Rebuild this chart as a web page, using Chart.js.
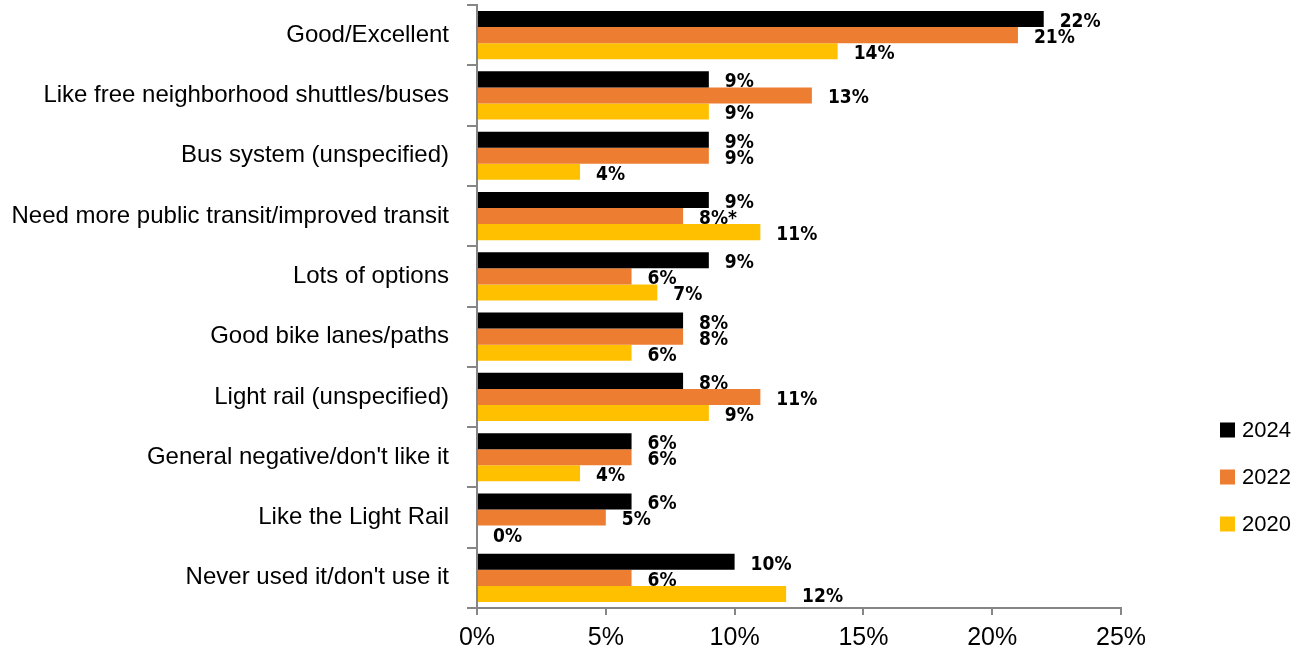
<!DOCTYPE html>
<html>
<head>
<meta charset="utf-8">
<title>Transit comments by year</title>
<script src="https://cdn.jsdelivr.net/npm/chart.js@4/dist/chart.umd.min.js"></script>
<style>
  html, body { margin: 0; padding: 0; background: #fff; }
  #wrap { position: relative; width: 1299px; height: 653px; }
</style>
</head>
<body>
<div id="wrap"><canvas id="chart"></canvas></div>
<script>
// Response categories, top to bottom
const categories = [
  "Good/Excellent",
  "Like free neighborhood shuttles/buses",
  "Bus system (unspecified)",
  "Need more public transit/improved transit",
  "Lots of options",
  "Good bike lanes/paths",
  "Light rail (unspecified)",
  "General negative/don't like it",
  "Like the Light Rail",
  "Never used it/don't use it"
];

// Percent of respondents per survey year
const values2024 = [22, 9, 9, 9, 9, 8, 8, 6, 6, 10];
const values2022 = [21, 13, 9, 8, 6, 8, 11, 6, 5, 6];
const values2020 = [14, 9, 4, 11, 7, 6, 9, 4, 0, 12];

// footnote markers appended to a few labels
const notes2022 = ["", "", "", "*", "", "", "", "", "", ""];

const xTicks = [0, 5, 10, 15, 20, 25];

const AXIS_GREY = '#868686';
const SANS = '"Liberation Sans", Arial, sans-serif';

// value labels drawn just past each bar end
const barLabels = {
  id: 'barLabels',
  afterDatasetsDraw(chart) {
    const ctx = chart.ctx;
    ctx.save();
    ctx.font = 'bold 19px "DejaVu Sans Condensed", "DejaVu Sans", sans-serif';
    ctx.fillStyle = '#000';
    ctx.textAlign = 'left';
    ctx.textBaseline = 'middle';
    chart.data.datasets.forEach((ds, i) => {
      const meta = chart.getDatasetMeta(i);
      meta.data.forEach((bar, j) => {
        const note = ds.notes ? ds.notes[j] : '';
        ctx.fillText(ds.data[j] + '%' + note, bar.x + 16, bar.y + 3);
      });
    });
    ctx.restore();
  }
};

// vertical legend in the lower right corner
const sideLegend = {
  id: 'sideLegend',
  afterDraw(chart) {
    const ctx = chart.ctx;
    const x = chart.chartArea.right + 99;
    ctx.save();
    ctx.font = '22px ' + SANS;
    ctx.textAlign = 'left';
    ctx.textBaseline = 'middle';
    chart.data.datasets.forEach((ds, i) => {
      const y = 430 + i * 47;
      ctx.fillStyle = ds.backgroundColor;
      ctx.fillRect(x, y - 7.5, 15, 15);
      ctx.fillStyle = '#000';
      ctx.fillText(ds.label, x + 22, y + 1);
    });
    ctx.restore();
  }
};

new Chart(document.getElementById('chart'), {
  type: 'bar',
  data: {
    labels: categories,
    datasets: [
      { label: '2024', data: values2024, backgroundColor: '#000000' },
      { label: '2022', data: values2022, backgroundColor: '#ED7D31', notes: notes2022 },
      { label: '2020', data: values2020, backgroundColor: '#FFC000' }
    ]
  },
  options: {
    indexAxis: 'y',
    responsive: true,
    maintainAspectRatio: false,
    animation: false,
    datasets: {
      bar: { categoryPercentage: 0.8, barPercentage: 1.0, borderWidth: 0 }
    },
    layout: { padding: { left: 0, right: 178, top: 5, bottom: 0 } },
    plugins: {
      legend: { display: false },
      tooltip: { enabled: false }
    },
    scales: {
      x: {
        min: 0,
        max: 25,
        afterBuildTicks: scale => { scale.ticks = xTicks.map(v => ({ value: v })); },
        afterFit: scale => { scale.height = 45; scale.paddingLeft = 0; scale.paddingRight = 0; },
        border: { display: true, color: AXIS_GREY, width: 2 },
        grid: { drawOnChartArea: false, drawTicks: true, tickLength: 7, color: AXIS_GREY, lineWidth: 2 },
        ticks: {
          color: '#000',
          font: { family: SANS, size: 25 },
          padding: 8,
          maxRotation: 0,
          callback: v => v + '%'
        }
      },
      y: {
        afterFit: scale => { scale.width = 477; scale.paddingTop = 0; scale.paddingBottom = 0; },
        border: { display: true, color: AXIS_GREY, width: 2 },
        grid: { drawOnChartArea: false, drawTicks: true, tickLength: 10, color: AXIS_GREY, lineWidth: 2, offset: true },
        ticks: {
          color: '#000',
          font: { family: SANS, size: 24 },
          padding: 18,
          autoSkip: false
        }
      }
    }
  },
  plugins: [barLabels, sideLegend]
});
</script>
</body>
</html>
